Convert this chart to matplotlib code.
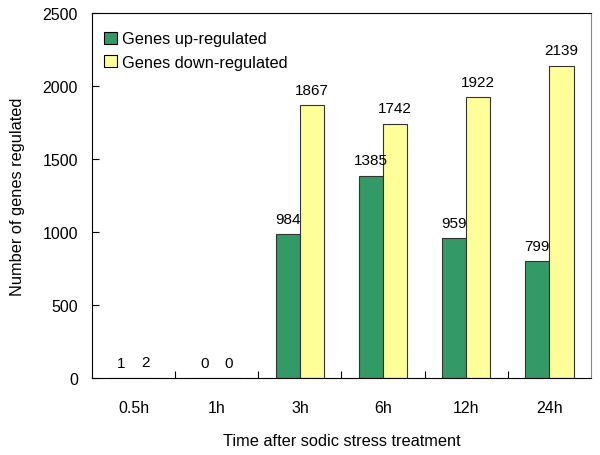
import numpy as np
import matplotlib.pyplot as plt
from matplotlib.patches import Patch

plt.rcParams['font.family'] = ['Liberation Sans', 'DejaVu Sans']

times = ["0.5h", "1h", "3h", "6h", "12h", "24h"]
up = [1, 0, 984, 1385, 959, 799]
down = [2, 0, 1867, 1742, 1922, 2139]

GREEN = "#339966"
YELLOW = "#ffff99"

fig = plt.figure(figsize=(6, 4.56), dpi=100)
ax = fig.add_axes([92/600, 1 - 379/456, 499/600, 365/456])

x = np.arange(len(times))
w = 0.29
b1 = ax.bar(x - w/2, up, w, color=GREEN, edgecolor="#333333", linewidth=0.8,
            label="Genes up-regulated")
b2 = ax.bar(x + w/2, down, w, color=YELLOW, edgecolor="#333333", linewidth=0.8,
            label="Genes down-regulated")

for bars, vals in ((b1, up), (b2, down)):
    for r, v in zip(bars, vals):
        ax.annotate(str(v), (r.get_x() + r.get_width()/2, r.get_height()),
                    xytext=(0, 6), textcoords="offset points",
                    ha="center", va="bottom", fontsize=11)

ax.set_xlim(-0.5, len(times) - 0.5)
ax.set_ylim(0, 2500)
ax.set_yticks(np.arange(0, 2501, 500))
ax.set_xticks(x)
ax.set_xticklabels(times)
ax.set_xticks(np.arange(0.5, len(times) - 1, 1), minor=True)
ax.tick_params(axis="x", which="major", length=0, pad=16, labelsize=11.5)
ax.tick_params(axis="x", which="minor", direction="in", length=5, width=0.8)
ax.tick_params(axis="y", direction="in", length=5, width=0.8, pad=10, labelsize=11.5)

ax.spines["right"].set_color("#888888")
for s in ("left", "bottom", "top"):
    ax.spines[s].set_color("black")

ax.set_xlabel("Time after sodic stress treatment", fontsize=11.8, labelpad=13)
ax.set_ylabel("Number of genes regulated", fontsize=11.8, labelpad=13)

handles = [Patch(facecolor=GREEN, edgecolor="black", linewidth=0.8),
           Patch(facecolor=YELLOW, edgecolor="black", linewidth=0.8)]
ax.legend(handles, ["Genes up-regulated", "Genes down-regulated"],
          loc="upper left", bbox_to_anchor=(-0.005, 0.99), frameon=False,
          fontsize=11.8, handlelength=0.75, handleheight=0.75,
          handletextpad=0.35, labelspacing=0.5)

fig.savefig("out.png", dpi=100)
